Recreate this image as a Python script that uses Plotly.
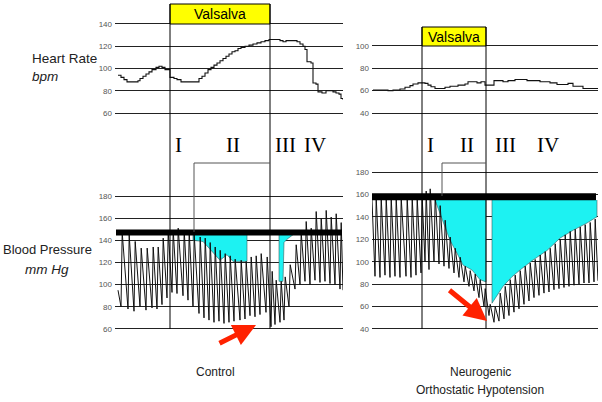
import plotly.graph_objects as go

W, H = 602, 402

# ---------------- data ----------------
# Heart rate (time in arbitrary units, bpm)
hr_ctrl_t = [3, 6, 9, 12, 20, 23, 25, 28, 31, 34, 37, 41, 44, 47, 50, 55, 59, 62, 66, 81, 84, 87, 90, 93,
             96, 99, 102, 105, 108, 111, 114, 117, 120, 123, 126, 130, 134, 138, 142, 146, 150, 154, 165,
             168, 171, 182, 185, 188, 190, 192, 196, 198, 201, 203, 207, 211, 215, 218, 221, 224, 226, 228]
hr_ctrl = [94, 92, 90, 88, 88, 89, 91, 93, 95, 97, 99, 101, 102, 101, 99, 92, 91, 90, 88, 88, 91, 93, 96, 99,
           101, 103, 105, 107, 109, 111, 113, 115, 116, 118, 119, 120, 121, 122, 123, 124, 125, 126, 125,
           124, 125, 124, 122, 120, 117, 106, 105, 87, 86, 79, 78, 80, 80, 79, 78, 77, 73, 72]

hr_noh_t = [1, 16, 21, 28, 33, 38, 41, 46, 53, 56, 59, 63, 73, 78, 86, 93, 96, 105, 109, 113, 120, 122,
            131, 136, 143, 155, 168, 178, 185, 196, 201, 211, 226]
hr_noh = [60.6, 60, 60.6, 61.5, 63, 64.5, 66, 67, 66.5, 65, 63.5, 62, 63, 64, 65, 66, 68, 67, 68, 65, 65, 69,
          68, 69, 70, 69, 68, 67, 65.5, 66.5, 64, 62, 62]

# Blood pressure beats: beat onset time, systolic peak, diastolic trough
bp_ctrl_t = [6, 13, 19, 25, 31, 37, 42, 47, 52, 57, 62, 68, 73, 78, 84, 89, 94, 99, 104, 109, 114, 119,
             125, 130, 135, 140, 145, 151, 156, 160, 165, 169, 174, 180, 185, 190, 195, 200, 205, 210,
             215, 220, 225]
bp_ctrl_sys = [147, 145, 139, 133, 133, 134, 134, 142, 148, 149, 151, 149, 148, 145, 143, 142, 138, 134,
               131, 128, 126, 123, 122, 121, 125, 126, 128, 125, 112, 104, 103, 107, 118, 136, 147, 157,
               151, 166, 160, 167, 161, 164, 156]
bp_ctrl_dia = [80, 78, 76, 80, 77, 79, 78, 82, 88, 93, 92, 90, 86, 80, 74, 70, 68, 66, 67, 65, 66, 67,
               68, 69, 72, 71, 73, 75, 62, 64, 66, 68, 80, 96, 100, 103, 100, 104, 102, 103, 101, 100, 96]
bp_ctrl_end = (228, 95)
bp_ctrl_start = (3, 95)

bp_noh_t = [3, 8, 13, 18, 23, 28, 34, 39, 44, 49, 53, 57, 62, 67, 72, 77, 82, 87, 92, 97, 102, 107, 112,
            117, 122, 127, 132, 137, 142, 147, 152, 157, 162, 167, 172, 177, 182, 187, 192, 197, 202,
            207, 212, 217, 222]
bp_noh_sys = [157, 157, 157, 157, 157, 157, 157, 157, 157, 157, 163, 165, 160, 150, 137, 122, 112, 104,
              96, 92, 89, 84, 76, 62, 60, 72, 78, 84, 88, 92, 96, 99, 102, 106, 109, 112, 116, 120, 124,
              127, 129, 131, 133, 135, 138]
bp_noh_dia = [87, 86, 88, 86, 87, 86, 87, 86, 88, 90, 100, 93, 100, 98, 96, 94, 90, 86, 82, 78, 74, 68,
              60, 52, 46, 47, 49, 52, 55, 58, 62, 65, 68, 70, 72, 73, 75, 76, 77, 78, 79, 80, 81, 81, 82]
bp_noh_start = (0, 155)
bp_noh_end = (226, 83)

# Cyan areas (pressure deficit)
cy_ctrl1_t = [78, 78, 88, 105, 112, 118, 132, 132]
cy_ctrl1_v = [145, 140, 139, 122, 127, 121, 121, 145]
cy_ctrl2_t = [164, 164, 168, 169, 172, 178]
cy_ctrl2_v = [145, 103, 103, 138, 141, 145]
cy_noh1_t = [63, 78, 85, 91, 100, 108, 114, 114]
cy_noh1_v = [155, 119, 107.6, 97, 92.6, 84, 82, 155]
cy_noh2_t = [120, 120, 131, 140, 148, 161, 175, 188, 201, 215, 223, 225, 225]
cy_noh2_v = [155, 63, 78, 86.6, 92.6, 101.5, 110, 121, 128, 134.5, 139, 140, 155]

baseline_ctrl = 147
baseline_noh = 158
valsalva_ctrl = (55, 155)
valsalva_noh = (50, 114)
phase2_ctrl = 79
phase2_noh = 70

hr_ctrl_ticks = [60, 80, 100, 120, 140]
hr_noh_ticks = [40, 60, 80, 100]
bp_ctrl_ticks = [60, 80, 100, 120, 140, 160, 180]
bp_noh_ticks = [40, 60, 80, 100, 120, 140, 160, 180]

roman = ["I", "II", "III", "IV"]


def px(x):
    return x / W


def py(y):
    return 1 - y / H


def wave(t, sys, dia, start, end, up=1.2):
    xs, ys = [start[0]], [start[1]]
    for ti, s, d in zip(t, sys, dia):
        xs += [ti, ti + up]
        ys += [d, s]
    xs.append(end[0])
    ys.append(end[1])
    return xs, ys


fig = go.Figure()

CYAN = "#1DF2F2"
for tt, vv in [(cy_ctrl1_t, cy_ctrl1_v), (cy_ctrl2_t, cy_ctrl2_v)]:
    fig.add_trace(go.Scatter(x=tt, y=vv, fill="toself", fillcolor=CYAN, mode="lines",
                             line=dict(color="#3a6060", width=0.6), xaxis="x", yaxis="y2",
                             hoverinfo="skip"))
for tt, vv in [(cy_noh1_t, cy_noh1_v), (cy_noh2_t, cy_noh2_v)]:
    fig.add_trace(go.Scatter(x=tt, y=vv, fill="toself", fillcolor=CYAN, mode="lines",
                             line=dict(color="#3a6060", width=0.6), xaxis="x2", yaxis="y4",
                             hoverinfo="skip"))

wx, wy = wave(bp_ctrl_t, bp_ctrl_sys, bp_ctrl_dia, bp_ctrl_start, bp_ctrl_end)
fig.add_trace(go.Scatter(x=wx, y=wy, mode="lines", line=dict(color="#111", width=1.0),
                         xaxis="x", yaxis="y2"))
wx, wy = wave(bp_noh_t, bp_noh_sys, bp_noh_dia, bp_noh_start, bp_noh_end)
fig.add_trace(go.Scatter(x=wx, y=wy, mode="lines", line=dict(color="#111", width=1.0),
                         xaxis="x2", yaxis="y4"))

fig.add_trace(go.Scatter(x=hr_ctrl_t, y=hr_ctrl, mode="lines", line=dict(color="#111", width=1.1, shape="hv"),
                         xaxis="x", yaxis="y"))
fig.add_trace(go.Scatter(x=hr_noh_t, y=hr_noh, mode="lines", line=dict(color="#111", width=1.1, shape="hv"),
                         xaxis="x2", yaxis="y3"))

shapes = []
# baseline bars
shapes.append(dict(type="line", xref="x", yref="y2", x0=1, x1=227, y0=baseline_ctrl, y1=baseline_ctrl,
                   line=dict(color="black", width=6)))
shapes.append(dict(type="line", xref="x2", yref="y4", x0=0, x1=224, y0=baseline_noh, y1=baseline_noh,
                   line=dict(color="black", width=7)))
# Valsalva boxes
shapes.append(dict(type="rect", xref="x", yref="paper", x0=valsalva_ctrl[0], x1=valsalva_ctrl[1],
                   y0=py(24), y1=py(4), fillcolor="#FFFF00", line=dict(color="black", width=1)))
shapes.append(dict(type="rect", xref="x2", yref="paper", x0=valsalva_noh[0], x1=valsalva_noh[1],
                   y0=py(46), y1=py(27), fillcolor="#FFFF00", line=dict(color="black", width=1)))
# vertical phase lines
for xv in valsalva_ctrl:
    shapes.append(dict(type="line", xref="x", yref="paper", x0=xv, x1=xv, y0=py(4), y1=py(329),
                       line=dict(color="black", width=1)))
for xv in valsalva_noh:
    shapes.append(dict(type="line", xref="x2", yref="paper", x0=xv, x1=xv, y0=py(27), y1=py(329),
                       line=dict(color="black", width=1)))
# brackets (phase II)
shapes.append(dict(type="line", xref="x", yref="paper", x0=phase2_ctrl, x1=phase2_ctrl, y0=py(163), y1=py(232),
                   line=dict(color="#555", width=1)))
shapes.append(dict(type="line", xref="x", yref="paper", x0=phase2_ctrl, x1=valsalva_ctrl[1], y0=py(163), y1=py(163),
                   line=dict(color="#555", width=1)))
shapes.append(dict(type="line", xref="x2", yref="paper", x0=phase2_noh, x1=phase2_noh, y0=py(163), y1=py(196),
                   line=dict(color="#555", width=1)))
shapes.append(dict(type="line", xref="x2", yref="paper", x0=phase2_noh, x1=valsalva_noh[1], y0=py(163), y1=py(163),
                   line=dict(color="#555", width=1)))

ann = []
FONT = "Liberation Sans"


def txt(text, x, y, size, family=FONT, color="#222", xanchor="center"):
    return dict(text=text, xref="paper", yref="paper", x=px(x), y=py(y), xanchor=xanchor,
                yanchor="middle", showarrow=False, font=dict(family=family, size=size, color=color))


ann.append(dict(text="Valsalva", xref="x", yref="paper", x=sum(valsalva_ctrl) / 2, y=py(14),
                xanchor="center", yanchor="middle",
                showarrow=False, font=dict(family=FONT, size=14, color="black")))
ann.append(dict(text="Valsalva", xref="x2", yref="paper", x=sum(valsalva_noh) / 2, y=py(36.5),
                xanchor="center", yanchor="middle",
                showarrow=False, font=dict(family=FONT, size=14, color="black")))
for lbl, xx in zip(roman, [178, 233, 285, 315]):
    ann.append(txt(lbl, xx, 145, 21, family="Liberation Serif", color="black"))
for lbl, xx in zip(roman, [430, 467, 505, 548]):
    ann.append(txt(lbl, xx, 145, 21, family="Liberation Serif", color="black"))
ann.append(txt("Heart Rate", 30, 58, 13.5, xanchor="left"))
ann.append(txt("<i>bpm</i>", 30, 76, 13.5, xanchor="left"))
ann.append(txt("Blood Pressure", 47, 250, 13))
ann.append(txt("<i>mm Hg</i>", 47, 269, 13.5))
ann.append(txt("Control", 215, 372, 12))
ann.append(txt("Neurogenic", 480, 372, 12))
ann.append(txt("Orthostatic Hypotension", 480, 390, 12))
# red arrows
ann.append(dict(text="", xref="paper", yref="paper", x=px(256), y=py(325), ax=-38, ay=19,
                showarrow=True, arrowhead=2, arrowsize=0.9, arrowwidth=5, arrowcolor="#FF2200", standoff=0))
ann.append(dict(text="", xref="paper", yref="paper", x=px(487), y=py(321), ax=-39, ay=-32,
                showarrow=True, arrowhead=2, arrowsize=0.9, arrowwidth=5, arrowcolor="#FF2200", standoff=0))


def yax(domain, rng, ticks, anchor):
    return dict(domain=domain, range=rng, tickvals=ticks, showgrid=True, gridcolor="#222", gridwidth=1,
                zeroline=False, showline=False, ticks="", anchor=anchor, fixedrange=True,
                tickfont=dict(family=FONT, size=8, color="#555"), ticklabelstandoff=2)


fig.update_layout(
    width=W, height=H, autosize=False,
    margin=dict(l=0, r=0, t=0, b=0),
    paper_bgcolor="white", plot_bgcolor="rgba(0,0,0,0)",
    showlegend=False,
    xaxis=dict(domain=[px(115), px(343)], range=[0, 228], visible=False, anchor="y", fixedrange=True),
    xaxis2=dict(domain=[px(372), px(598)], range=[0, 226], visible=False, anchor="y3", fixedrange=True),
    yaxis=yax([py(118.6), py(18.4)], [55, 145], hr_ctrl_ticks, "x"),
    yaxis2=yax([py(334.5), py(190.5)], [55, 185], bp_ctrl_ticks, "x"),
    yaxis3=yax([py(118.6), py(40.4)], [35, 105], hr_noh_ticks, "x2"),
    yaxis4=yax([py(334.6), py(166.4)], [35, 185], bp_noh_ticks, "x2"),
    shapes=shapes,
    annotations=ann,
)

fig.write_html("out.html", config={"displayModeBar": False},
               post_script="document.body.style.margin='0';document.body.style.overflow='hidden';")
